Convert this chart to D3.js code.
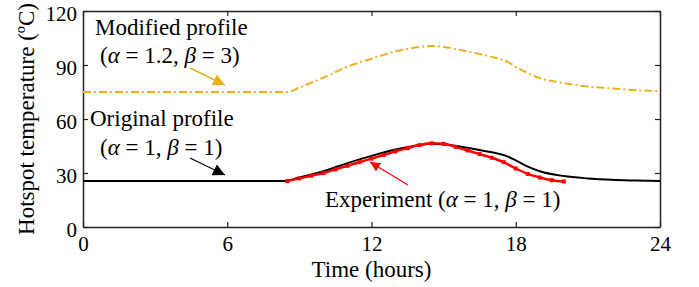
<!DOCTYPE html>
<html>
<head>
<meta charset="utf-8">
<script src="https://cdn.jsdelivr.net/npm/d3@7"></script>
<style>
  body { margin: 0; background: #fff; }
  text { font-family: "Liberation Serif", "Times New Roman", serif; fill: #000; }
</style>
</head>
<body>
<div id="wrapper"></div>
<script>
// hours / temperature (ºC)
const origHours = [0, 8.3, 9, 10, 11, 12, 13, 14, 14.5, 15, 16, 17, 17.6, 18, 18.5, 19, 20, 21, 22, 23, 24];
const origTemp  = [25.5, 25.5, 27.5, 31, 35.5, 39.5, 43, 45.5, 46.3, 46, 44, 41.5, 39.5, 37, 33.5, 31, 28.3, 27, 26.2, 25.8, 25.5];

const modHours = [0, 8.5, 9, 10, 11, 12, 13, 14, 14.5, 15, 16, 17, 17.7, 18, 18.5, 19, 20, 21, 22, 23, 24];
const modTemp  = [75, 75, 77.5, 83, 89, 93.5, 97.5, 100, 100.6, 100, 97.5, 94.5, 91.5, 89, 85.5, 82.7, 80, 78, 77, 76, 75.5];

const expHours = [8.5, 9, 9.5, 10, 10.5, 11, 11.5, 12, 12.5, 13, 13.5, 14, 14.5, 15, 15.5, 16, 16.5, 17, 17.5, 18, 18.5, 19, 19.5, 20];
const expTemp  = [25.5, 27, 28.5, 30, 32, 34, 36, 38, 40, 42, 43.8, 45.5, 46.5, 46.2, 44.5, 42.5, 40.5, 38.5, 36, 32.5, 29.5, 27.5, 26, 25.3];

const xTicks = [0, 6, 12, 18, 24];
const yTicks = [0, 30, 60, 90, 120];

const W = 699, H = 287;
const margin = {top: 11, right: 39, bottom: 60, left: 83};
const width = W - margin.left - margin.right;
const height = H - margin.top - margin.bottom;

const svg = d3.select("#wrapper").append("svg")
  .attr("width", W)
  .attr("height", H);

const defs = svg.append("defs");
function marker(id, color, size) {
  defs.append("marker")
    .attr("id", id)
    .attr("viewBox", "0 0 10 10")
    .attr("refX", 10).attr("refY", 5)
    .attr("markerWidth", size).attr("markerHeight", size)
    .attr("markerUnits", "userSpaceOnUse")
    .attr("orient", "auto")
    .append("path")
    .attr("d", "M0,0 L10,5 L0,10 Z")
    .attr("fill", color);
}
marker("headOrange", "#EDB120", 12);
marker("headBlack", "#000", 12);
marker("headRed", "#f00", 10);

const g = svg.append("g")
  .attr("transform", `translate(${margin.left},${margin.top})`);

const xScale = d3.scaleLinear().domain([0, 24]).range([0, width]);
const yScale = d3.scaleLinear().domain([0, 120]).range([height, 0]);

// axes: ticks pointing inward, mirrored on top/right
const xAxis = d3.axisBottom(xScale).tickValues(xTicks).tickSizeInner(-5).tickSizeOuter(0).tickPadding(9);
const yAxis = d3.axisLeft(yScale).tickValues(yTicks).tickSizeInner(-5).tickSizeOuter(0).tickPadding(6);

const gx = g.append("g").attr("transform", `translate(0,${height})`).call(xAxis);
const gy = g.append("g").call(yAxis);
g.append("g").call(d3.axisTop(xScale).tickValues(xTicks).tickSizeInner(-5).tickSizeOuter(0).tickFormat(""));
g.append("g").attr("transform", `translate(${width},0)`)
  .call(d3.axisRight(yScale).tickValues(yTicks).tickSizeInner(-5).tickSizeOuter(0).tickFormat(""));

g.selectAll(".domain").attr("stroke", "#222").attr("stroke-width", 1.5);
g.selectAll(".tick line").attr("stroke", "#222").attr("stroke-width", 1.2);
gx.selectAll(".tick text").attr("font-size", 21).style("font-family", "Liberation Serif");
gy.selectAll(".tick text").attr("font-size", 21).attr("dy", "0.45em").style("font-family", "Liberation Serif");

// series
const line = d3.line()
  .x(d => xScale(d[0]))
  .y(d => yScale(d[1]))
  .curve(d3.curveMonotoneX);

const orig = d3.zip(origHours, origTemp);
const mod = d3.zip(modHours, modTemp);
const exp = d3.zip(expHours, expTemp);

g.append("path").datum(mod)
  .attr("d", line)
  .attr("fill", "none")
  .attr("stroke", "#EDB120")
  .attr("stroke-width", 2)
  .attr("stroke-dasharray", "8,3,2,3");

g.append("path").datum(orig)
  .attr("d", line)
  .attr("fill", "none")
  .attr("stroke", "#000")
  .attr("stroke-width", 2);

g.append("path").datum(exp)
  .attr("d", line)
  .attr("fill", "none")
  .attr("stroke", "#f00")
  .attr("stroke-width", 2.5);

g.selectAll(".expdot")
  .data(exp)
  .join("rect")
  .attr("class", "expdot")
  .attr("x", d => xScale(d[0]) - 2)
  .attr("y", d => yScale(d[1]) - 2)
  .attr("width", 4)
  .attr("height", 4)
  .attr("fill", "#f00");

// annotations
function label(x, y, parts) {
  const t = svg.append("text").attr("x", x).attr("y", y).attr("font-size", 23);
  parts.forEach(p => {
    const s = t.append("tspan").text(p[0]);
    if (p[1]) s.attr("font-style", "italic");
  });
}
label(95, 35, [["Modified profile"]]);
label(100, 63, [["("], ["α", true], [" = 1.2, "], ["β", true], [" = 3)"]]);
label(90, 126, [["Original profile"]]);
label(100, 155, [["("], ["α", true], [" = 1, "], ["β", true], [" = 1)"]]);
label(325, 207, [["Experiment ("], ["α", true], [" = 1, "], ["β", true], [" = 1)"]]);

svg.append("line").attr("x1", 190).attr("y1", 68).attr("x2", 225).attr("y2", 85)
  .attr("stroke", "#EDB120").attr("stroke-width", 1.5).attr("marker-end", "url(#headOrange)");
svg.append("line").attr("x1", 190).attr("y1", 158).attr("x2", 225).attr("y2", 175)
  .attr("stroke", "#000").attr("stroke-width", 1.2).attr("marker-end", "url(#headBlack)");
svg.append("line").attr("x1", 408).attr("y1", 185).attr("x2", 370).attr("y2", 162)
  .attr("stroke", "#f00").attr("stroke-width", 1.2).attr("marker-end", "url(#headRed)");

// axis titles
svg.append("text")
  .attr("x", margin.left + width / 2).attr("y", 277)
  .attr("text-anchor", "middle").attr("font-size", 23)
  .text("Time (hours)");

svg.append("text")
  .attr("transform", `translate(34,${margin.top + height / 2}) rotate(-90)`)
  .attr("text-anchor", "middle").attr("font-size", 23)
  .text("Hotspot temperature (ºC)");
</script>
</body>
</html>
